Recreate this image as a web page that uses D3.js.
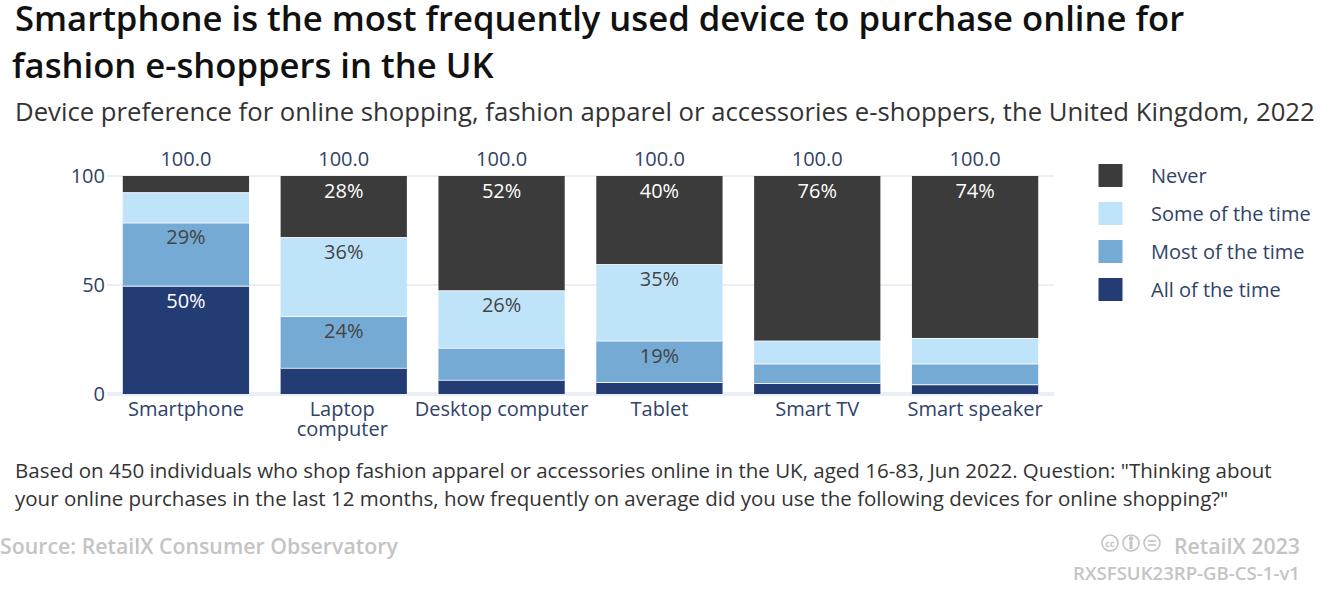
<!DOCTYPE html>
<html><head><meta charset="utf-8">
<script src="https://cdn.jsdelivr.net/npm/d3@7/dist/d3.min.js"></script>
<style>html,body{margin:0;padding:0;background:#fff}svg{display:block}text{font-family:"Open Sans",sans-serif}</style>
</head><body><svg id="c" width="1334" height="596"></svg>
<script>
const categories=["Smartphone","Laptop computer","Desktop computer","Tablet","Smart TV","Smart speaker"];
const allOfTheTime=[49.7,12,6.5,5.5,5,4.5];
const mostOfTheTime=[29,23.8,14.7,19,9,9.5];
const someOfTheTime=[13.9,36.2,26.4,35.1,10.5,11.7];
const never=[7.4,28,52.4,40.4,75.5,74.3];
const totals=[100,100,100,100,100,100];
const seriesNames=["All of the time","Most of the time","Some of the time","Never"];
const seriesColors=["#243c74","#74aad3","#bfe4fa","#3b3b3b"];
const labelColors=["#ffffff","#444444","#444444","#ffffff"];
const labelMin=18;
const yTicks=[0,50,100];
const titleLines=["Smartphone is the most frequently used device to purchase online for","fashion e-shoppers in the UK"];
const subtitle="Device preference for online shopping, fashion apparel or accessories e-shoppers, the United Kingdom, 2022";
const noteLines=['Based on 450 individuals who shop fashion apparel or accessories online in the UK, aged 16-83, Jun 2022. Question: "Thinking about','your online purchases in the last 12 months, how frequently on average did you use the following devices for online shopping?"'];
const source="Source: RetailX Consumer Observatory";
const credit="RetailX 2023";
const code="RXSFSUK23RP-GB-CS-1-v1";

const svg=d3.select("#c");
const navy="#2f4368", grey="#c4c4c4";
const x=d3.scaleBand().domain(categories).range([107,1054]).paddingInner(0.2).paddingOuter(0.1);
const y=d3.scaleLinear().domain([0,100]).range([394,176]);

// titles
svg.selectAll(".t").data(titleLines).join("text").attr("class","t")
  .attr("x",(d,i)=>i?12:15).attr("y",(d,i)=>31+i*47)
  .attr("font-size",34.65).attr("font-weight",600).attr("fill","#111").text(d=>d);
svg.append("text").attr("x",15).attr("y",121).attr("font-size",25.7).attr("fill","#333").text(subtitle);

// grid
const grid=svg.append("g");
grid.selectAll("line").data(yTicks).join("line")
  .attr("x1",107).attr("x2",1054).attr("y1",d=>y(d)).attr("y2",d=>y(d))
  .attr("stroke","#e9eff5").attr("stroke-width",d=>d===0?4:2);

// y axis
const yAxis=d3.axisLeft(y).tickValues(yTicks).tickSize(0).tickPadding(0);
const gy=svg.append("g").attr("transform","translate(105,-0.5)").call(yAxis);
gy.select(".domain").remove();
gy.selectAll("text").attr("font-size",20).attr("fill",navy).attr("dy","0.35em").style("font-family",'"Open Sans",sans-serif');

// bars
const table=categories.map((c,i)=>({cat:c,s0:allOfTheTime[i],s1:mostOfTheTime[i],s2:someOfTheTime[i],s3:never[i]}));
const stack=d3.stack().keys(["s0","s1","s2","s3"])(table);
const layers=svg.selectAll(".layer").data(stack).join("g").attr("class","layer");
layers.each(function(s,si){
  const g=d3.select(this);
  g.selectAll("rect").data(s).join("rect")
    .attr("x",d=>x(d.data.cat)).attr("width",x.bandwidth())
    .attr("y",d=>y(d[1])).attr("height",d=>y(d[0])-y(d[1]))
    .attr("fill",seriesColors[si]);
  g.selectAll("line").data(si<3?s:[]).join("line")
    .attr("x1",d=>x(d.data.cat)).attr("x2",d=>x(d.data.cat)+x.bandwidth())
    .attr("y1",d=>y(d[1])).attr("y2",d=>y(d[1])).attr("stroke","#f4f8fb").attr("stroke-width",2);
  g.selectAll("text").data(s.filter(d=>d[1]-d[0]>=labelMin)).join("text")
    .attr("x",d=>x(d.data.cat)+x.bandwidth()/2).attr("y",d=>y(d[1])+22)
    .attr("text-anchor","middle").attr("font-size",20).attr("fill",labelColors[si])
    .text(d=>Math.round(d[1]-d[0])+"%");
});

// totals
svg.selectAll(".tot").data(categories).join("text").attr("class","tot")
  .attr("x",d=>x(d)+x.bandwidth()/2).attr("y",166).attr("text-anchor","middle")
  .attr("font-size",20).attr("fill",navy).text((d,i)=>totals[i].toFixed(1));

// x labels
const xAxis=d3.axisBottom(x).tickSize(0).tickPadding(0);
const gx=svg.append("g").attr("transform","translate(0,397)").call(xAxis);
gx.select(".domain").remove();
gx.selectAll("text").each(function(d){
  const t=d3.select(this).text("").attr("font-size",20).attr("fill",navy).attr("y",0).attr("dy",null)
    .style("font-family",'"Open Sans",sans-serif');
  const parts=d==="Laptop computer"?["Laptop","computer"]:[d];
  const dx=parts.length>1?-1.5:0;
  parts.forEach((p,i)=>t.append("tspan").attr("x",dx).attr("y",19+i*20).text(p));
});

// legend
const legendOrder=[3,2,1,0];
const lg=svg.selectAll(".lg").data(legendOrder).join("g").attr("class","lg")
  .attr("transform",(d,i)=>`translate(1098.5,${164+i*38})`);
lg.append("rect").attr("width",24).attr("height",23).attr("fill",d=>seriesColors[d]);
lg.append("text").attr("x",52.5).attr("y",19).attr("font-size",20).attr("fill",navy).text(d=>seriesNames[d]);

// notes
svg.selectAll(".n").data(noteLines).join("text").attr("class","n")
  .attr("x",15).attr("y",(d,i)=>478+i*28).attr("font-size",20.5).attr("fill","#333").text(d=>d);

// footer
svg.append("text").attr("x",0).attr("y",554).attr("font-size",21.3).attr("font-weight",600).attr("fill",grey).text(source);
svg.append("text").attr("x",1300).attr("y",554).attr("text-anchor","end").attr("font-size",21.3).attr("font-weight",600).attr("fill",grey).text(credit);
svg.append("text").attr("x",1300).attr("y",580).attr("text-anchor","end").attr("font-size",18.6).attr("font-weight",600).attr("fill",grey).text(code);
const icons=svg.append("g").attr("fill","none").attr("stroke",grey).attr("stroke-width",1.6);
[1110,1131,1152].forEach(cx=>icons.append("circle").attr("cx",cx).attr("cy",543).attr("r",8));
svg.append("text").attr("x",1110).attr("y",546.5).attr("text-anchor","middle").attr("font-size",9).attr("font-weight",700).attr("fill",grey).text("cc");
icons.append("circle").attr("cx",1131).attr("cy",538.5).attr("r",1.4).attr("fill",grey);
icons.append("line").attr("x1",1131).attr("x2",1131).attr("y1",541).attr("y2",549).attr("stroke-width",3);
icons.append("line").attr("x1",1148).attr("x2",1156).attr("y1",541).attr("y2",541);
icons.append("line").attr("x1",1148).attr("x2",1156).attr("y1",545).attr("y2",545);
</script></body></html>
